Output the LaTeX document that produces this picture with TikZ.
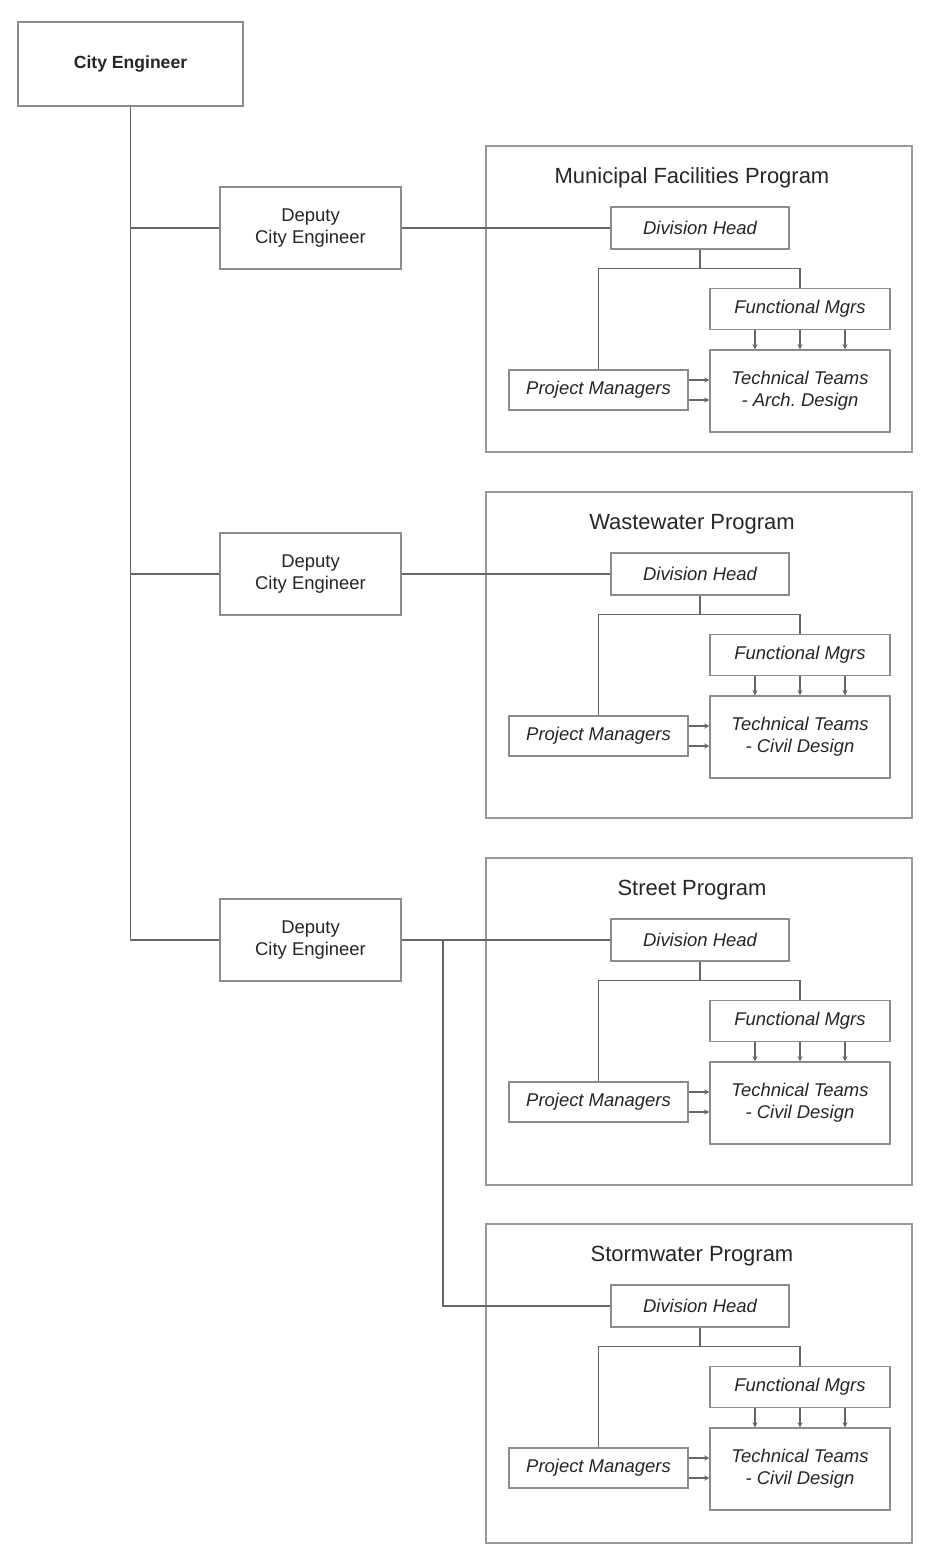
\documentclass[tikz,border=0pt]{standalone}
\usepackage{fontspec}
\setmainfont{Liberation Sans}
\usetikzlibrary{arrows.meta}
\frenchspacing

\tikzset{
  box/.style={draw=black!45, line width=0.7pt, fill=white, align=center,
    font=\fontsize{10.5}{12.5}\selectfont, text=black!85, inner sep=0pt},
  ibox/.style={box, font=\fontsize{10.5}{12.5}\selectfont\itshape},
  progbox/.style={draw=black!40, line width=0.7pt},
  link/.style={draw=black!60, line width=0.7pt},
  arr/.style={link, -{Stealth[length=3pt,width=3pt]}},
}

\begin{document}
\begin{tikzpicture}[x=0.2mm, y=-0.2mm]
    \useasboundingbox (0,0) rectangle (935,1549);
    % top of the chart
    \node[box, line width=1.2pt, minimum width=45mm, minimum height=16.8mm,
      font=\fontsize{10}{12}\selectfont\bfseries] (ce) at (130.5,64) {City Engineer};
    \foreach \i/\d in {1/228,2/574,3/940}
      \node[box, minimum width=36.2mm, minimum height=16.4mm] (dep\i) at (310.5,\d) {Deputy\\City Engineer};
    % one block per program
    \foreach \i/\d/\bot/\title/\team in {1/228/452/Municipal Facilities Program/Arch. Design,
        2/574/818/Wastewater Program/Civil Design,
        3/940/1185/Street Program/Civil Design,
        4/1306/1543/Stormwater Program/Civil Design} {
      \draw[progbox] (486,\d-82) rectangle (912,\bot);
      \node[font=\fontsize{12.5}{15}\selectfont, text=black!85] (title\i) at (692,\d-50) {\title};
      \node[ibox, minimum width=35.6mm, minimum height=8.4mm] (dh\i) at (700,\d) {Division Head};
      \node[ibox, minimum width=36mm, minimum height=8.2mm] (fm\i) at (800,\d+81) {Functional Mgrs};
      \node[ibox, minimum width=36mm, minimum height=16.4mm] (tt\i) at (800,\d+163) {Technical Teams\\- \team};
      \node[ibox, minimum width=35.8mm, minimum height=8mm] (pm\i) at (598.5,\d+162) {Project Managers};
      \draw[link] (dh\i.south) -- ++(0,19) -| (pm\i.north);
      \draw[link] (dh\i.south) ++(0,19) -| (fm\i.north);
      \foreach \dx in {-9,0,9}
        \draw[arr] ([xshift=\dx mm]fm\i.south) -- ([xshift=\dx mm]tt\i.north);
      \foreach \dy in {-2,2}
        \draw[arr] ([yshift=\dy mm]pm\i.east) -- ([yshift=\dy mm]pm\i.east -| tt\i.west);
    }
    % reporting lines
    \draw[link] (ce.south) |- (dep3.west);
    \draw[link] (ce.south |- dep1.west) -- (dep1.west);
    \draw[link] (ce.south |- dep2.west) -- (dep2.west);
    \draw[link] (dep1.east) -- (dh1.west);
    \draw[link] (dep2.east) -- (dh2.west);
    \draw[link] (dep3.east) -- (dh3.west);
    \coordinate (split) at (443,940);
    \draw[link] (split) |- (dh4.west);
\end{tikzpicture}
\end{document}
